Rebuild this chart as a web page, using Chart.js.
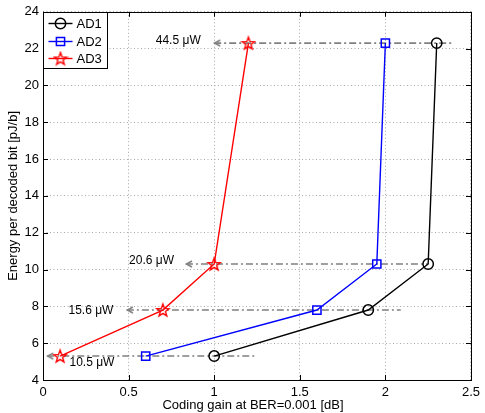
<!DOCTYPE html>
<html><head><meta charset="utf-8">
<script src="https://cdn.jsdelivr.net/npm/chart.js@4"></script>
<style>html,body{margin:0;padding:0;background:#fff}#wrap{width:485px;height:413px;position:relative}</style>
</head><body><div id="wrap"><canvas id="c"></canvas></div>
<script>
// ---- data ----
const seriesNames = ['AD1', 'AD2', 'AD3'];
const ad1X = [1.0, 1.9, 2.25, 2.3];
const ad1Y = [5.3, 7.8, 10.3, 22.3];
const ad2X = [0.6, 1.6, 1.95, 2.0];
const ad2Y = [5.3, 7.8, 10.3, 22.3];
const ad3X = [0.1, 0.7, 1.0, 1.2];
const ad3Y = [5.3, 7.8, 10.3, 22.3];
// power-level arrows (dash-dot guides)
const powerLevels = [5.3, 7.8, 10.3, 22.3];
const arrowHeadX = [0.025, 0.49, 0.835, 1.0];
const arrowTailX = [1.24, 2.09, 2.25, 2.4];
const powerLabels = ['10.5 \u03bcW', '15.6 \u03bcW', '20.6 \u03bcW', '44.5 \u03bcW'];
const powerLabelX = [0.286, 0.28, 0.634, 0.79];
const powerLabelY = [4.92, 7.76, 10.5, 22.43];
const xTicks = [0, 0.5, 1, 1.5, 2, 2.5];
const yTicks = [4, 6, 8, 10, 12, 14, 16, 18, 20, 22, 24];

const FONT = '"Liberation Sans", Arial, Helvetica, sans-serif';

function pts(xs, ys) { return xs.map((x, i) => ({x: x, y: ys[i]})); }

// pentagram marker
function makeStar(color) {
  const s = 16, c = document.createElement('canvas');
  c.width = s; c.height = s;
  const g = c.getContext('2d');
  const R = 6.6, r = 2.7, cx = s / 2, cy = s / 2 + 0.6;
  g.beginPath();
  for (let i = 0; i < 10; i++) {
    const ang = -Math.PI / 2 + i * Math.PI / 5;
    const rr = i % 2 === 0 ? R : r;
    const px = cx + rr * Math.cos(ang), py = cy + rr * Math.sin(ang);
    if (i === 0) g.moveTo(px, py); else g.lineTo(px, py);
  }
  g.closePath();
  g.strokeStyle = color; g.lineWidth = 1.4; g.lineJoin = 'miter';
  g.stroke();
  return c;
}
// open chevron arrow head pointing left, tip at canvas centre
function makeChevron(color) {
  const s = 16, c = document.createElement('canvas');
  c.width = s; c.height = s;
  const g = c.getContext('2d');
  g.beginPath();
  g.moveTo(s / 2 + 6, s / 2 - 3);
  g.lineTo(s / 2 + 0.5, s / 2);
  g.lineTo(s / 2 + 6, s / 2 + 3);
  g.strokeStyle = color; g.lineWidth = 1.6;
  g.stroke();
  return c;
}
const starImg = makeStar('#ff0000');
const chevImg = makeChevron('#808080');

const datasets = [
  {label: seriesNames[0], data: pts(ad1X, ad1Y), borderColor: '#000000', backgroundColor: 'rgba(0,0,0,0)',
   borderWidth: 1.4, pointStyle: 'circle', pointRadius: 5.2, pointBorderWidth: 1.5, pointBorderColor: '#000', pointBackgroundColor: 'rgba(0,0,0,0)', order: 1},
  {label: seriesNames[1], data: pts(ad2X, ad2Y), borderColor: '#0000ff', backgroundColor: 'rgba(0,0,0,0)',
   borderWidth: 1.4, pointStyle: 'rect', pointRadius: 5.8, pointBorderWidth: 1.5, pointBorderColor: '#0000ff', pointBackgroundColor: 'rgba(0,0,0,0)', order: 1},
  {label: seriesNames[2], data: pts(ad3X, ad3Y), borderColor: '#ff0000', backgroundColor: 'rgba(0,0,0,0)',
   borderWidth: 1.4, pointStyle: starImg, pointRadius: 7, order: 1}
];
powerLevels.forEach((lv, i) => {
  datasets.push({
    label: 'guide' + i,
    data: [{x: arrowHeadX[i], y: lv}, {x: arrowTailX[i], y: lv}],
    borderColor: '#808080', borderWidth: 1.6, borderDash: [7, 3, 2, 3],
    pointStyle: [chevImg, false], pointRadius: [8, 0], order: 2
  });
});

const framePlugin = {
  id: 'frame',
  afterDatasetsDraw(chart) {
    const ctx = chart.ctx, a = chart.chartArea;
    const xs = chart.scales.x, ys = chart.scales.y;
    ctx.save();
    // frame
    ctx.strokeStyle = '#000'; ctx.lineWidth = 1;
    ctx.strokeRect(Math.round(a.left) + 0.5, Math.round(a.top) + 0.5, Math.round(a.right - a.left), Math.round(a.bottom - a.top));
    // inward ticks
    ctx.beginPath();
    xTicks.forEach(v => {
      const px = Math.round(xs.getPixelForValue(v)) + 0.5;
      ctx.moveTo(px, a.bottom); ctx.lineTo(px, a.bottom - 5);
      ctx.moveTo(px, a.top); ctx.lineTo(px, a.top + 5);
    });
    yTicks.forEach(v => {
      const py = Math.round(ys.getPixelForValue(v)) + 0.5;
      ctx.moveTo(a.left, py); ctx.lineTo(a.left + 5, py);
      ctx.moveTo(a.right, py); ctx.lineTo(a.right - 5, py);
    });
    ctx.stroke();
    // power labels
    ctx.fillStyle = '#000'; ctx.font = '12px ' + FONT;
    ctx.textAlign = 'center'; ctx.textBaseline = 'middle';
    powerLabels.forEach((t, i) => {
      ctx.fillText(t, xs.getPixelForValue(powerLabelX[i]), ys.getPixelForValue(powerLabelY[i]));
    });
    // legend
    const lx = Math.round(a.left) + 0.5, ly = Math.round(a.top) + 0.5, lw = 64, lh = 56;
    ctx.fillStyle = '#fff'; ctx.fillRect(lx, ly, lw, lh);
    ctx.strokeStyle = '#000'; ctx.lineWidth = 1; ctx.strokeRect(lx, ly, lw, lh);
    const rows = [ly + 11, ly + 29, ly + 46];
    ctx.font = '13px ' + FONT; ctx.textAlign = 'left'; ctx.textBaseline = 'middle';
    for (let i = 0; i < 3; i++) {
      const ds = chart.data.datasets[i];
      const y = rows[i];
      ctx.strokeStyle = ds.borderColor; ctx.lineWidth = 1.4; ctx.setLineDash([]);
      ctx.beginPath(); ctx.moveTo(lx + 5, y); ctx.lineTo(lx + 29, y); ctx.stroke();
      ctx.fillStyle = 'rgba(0,0,0,0)';
      ctx.strokeStyle = ds.borderColor; ctx.lineWidth = ds.pointBorderWidth || 1.4;
      Chart.helpers.drawPoint(ctx, {pointStyle: ds.pointStyle, radius: ds.pointRadius, borderWidth: ds.pointBorderWidth || 1, rotation: 0},
        lx + 17, y);
      ctx.fillStyle = '#000';
      ctx.fillText(ds.label, lx + 33, y + 0.5);
    }
    // axis titles
    ctx.fillStyle = '#000'; ctx.font = '13px ' + FONT;
    ctx.textAlign = 'center'; ctx.textBaseline = 'middle';
    ctx.fillText('Coding gain at BER=0.001 [dB]', 253, 405);
    ctx.translate(13, (a.top + a.bottom) / 2);
    ctx.rotate(-Math.PI / 2);
    ctx.fillText('Energy per decoded bit [pJ/b]', 0, 0);
    ctx.restore();
  }
};

new Chart(document.getElementById('c'), {
  type: 'scatter',
  data: {datasets: datasets},
  options: {
    responsive: true, maintainAspectRatio: false, animation: false,
    showLine: true,
    layout: {padding: {left: 0, right: 7, top: 11, bottom: 0}},
    plugins: {legend: {display: false}, tooltip: {enabled: false}},
    elements: {line: {tension: 0, fill: false}},
    scales: {
      x: {
        type: 'linear', min: 0, max: 2.5,
        afterFit(s) { s.height = 33; },
        afterBuildTicks(s) { s.ticks = xTicks.map(v => ({value: v})); },
        ticks: {font: {family: FONT, size: 13}, color: '#000', padding: 5, maxRotation: 0,
                callback: v => String(v)},
        grid: {color: '#a8a8a8', lineWidth: 1, drawTicks: false},
        border: {display: false, dash: [1, 2.5]}
      },
      y: {
        type: 'linear', min: 4, max: 24,
        afterFit(s) { s.width = 43; },
        afterBuildTicks(s) { s.ticks = yTicks.map(v => ({value: v})); },
        ticks: {font: {family: FONT, size: 13}, color: '#000', padding: 4,
                callback: v => String(v)},
        grid: {color: '#a8a8a8', lineWidth: 1, drawTicks: false},
        border: {display: false, dash: [1, 2.5]}
      }
    }
  },
  plugins: [framePlugin]
});
</script>
</body></html>
